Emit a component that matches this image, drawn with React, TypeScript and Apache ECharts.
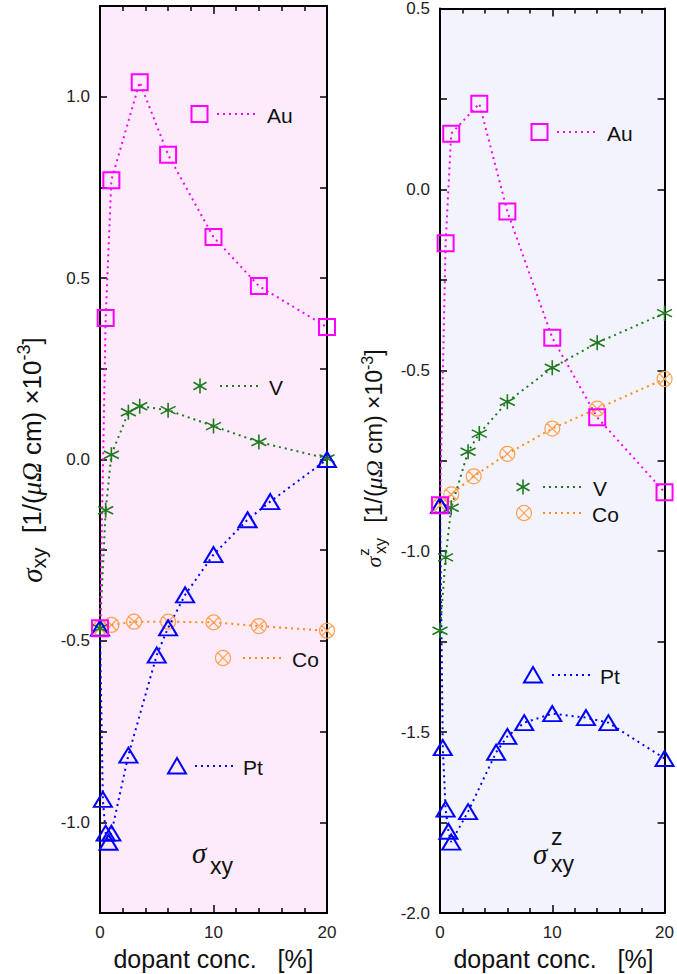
import React, { useEffect, useRef } from 'react';
import * as echarts from 'echarts';

// ---------- data (dopant conc. [%] vs conductivity) ----------
const L_AU_X = [0, 0.5, 1, 3.5, 6, 10, 14, 20];
const L_AU_Y = [-0.465, 0.39, 0.77, 1.04, 0.84, 0.613, 0.478, 0.365];
const L_V_X = [0, 0.5, 1, 2.5, 3.5, 6, 10, 14, 20];
const L_V_Y = [-0.465, -0.14, 0.013, 0.13, 0.147, 0.136, 0.092, 0.048, 0.003];
const L_CO_X = [0, 1, 3, 6, 10, 14, 20];
const L_CO_Y = [-0.465, -0.456, -0.447, -0.447, -0.449, -0.459, -0.472];
const L_PT_X = [0, 0.25, 0.5, 0.75, 1, 2.5, 5, 6, 7.5, 10, 13, 15, 20];
const L_PT_Y = [-0.465, -0.937, -1.03, -1.055, -1.03, -0.815, -0.539, -0.464, -0.373, -0.262, -0.166, -0.116, 0.0];

const R_AU_X = [0, 0.5, 1, 3.5, 6, 10, 14, 20];
const R_AU_Y = [-0.873, -0.149, 0.154, 0.237, -0.061, -0.41, -0.63, -0.837];
const R_V_X = [0, 0.5, 1, 2.5, 3.5, 6, 10, 14, 20];
const R_V_Y = [-1.22, -1.017, -0.88, -0.725, -0.675, -0.587, -0.493, -0.424, -0.342];
const R_CO_X = [0, 1, 3, 6, 10, 14, 20];
const R_CO_Y = [-0.873, -0.843, -0.793, -0.731, -0.661, -0.606, -0.524];
const R_PT_X = [0, 0.25, 0.5, 0.75, 1, 2.5, 5, 6, 7.5, 10, 13, 15, 20];
const R_PT_Y = [-0.873, -1.543, -1.713, -1.774, -1.804, -1.72, -1.556, -1.512, -1.474, -1.449, -1.46, -1.474, -1.573];

const X_MIN = 0;
const X_MAX = 20;
const L_Y_MIN = -1.25;
const L_Y_MAX = 1.25;
const R_Y_MIN = -2.0;
const R_Y_MAX = 0.5;

// ---------- styles ----------
const SANS = 'Liberation Sans, Arial, sans-serif';
const SERIF = 'Liberation Serif, Times New Roman, serif';
const C_AU = '#ff00ff';
const C_V = '#1f7a1f';
const C_CO_LINE = '#ff8a1a';
const C_CO_SYM = '#ffa04d';
const C_PT = '#0000ff';
const BG_L = '#fdeafa';
const BG_R = '#f3f3fd';

const SYM_AST = 'path://M5,0L5,10M0.67,2.5L9.33,7.5M0.67,7.5L9.33,2.5';
const SYM_OX = 'path://M0,8A8,8,0,1,1,16,8A8,8,0,1,1,0,8ZM2.34,2.34L13.66,13.66M13.66,2.34L2.34,13.66';

const pairs = (xs: number[], ys: number[]) => xs.map((x, i) => [x, ys[i]]);

function mkSeries(name: string, xs: number[], ys: number[], g: number, kind: string) {
  const base: any = {
    type: 'line',
    name,
    data: pairs(xs, ys),
    xAxisIndex: g * 2,
    yAxisIndex: g * 2,
    showAllSymbol: true,
    silent: true,
  };
  if (kind === 'au') {
    base.symbol = 'rect';
    base.symbolSize = 16;
    base.lineStyle = { color: C_AU, width: 2, type: [2, 4] };
    base.itemStyle = { color: 'rgba(0,0,0,0)', borderColor: C_AU, borderWidth: 2 };
  } else if (kind === 'v') {
    base.symbol = SYM_AST;
    base.symbolSize = 15;
    base.lineStyle = { color: C_V, width: 2, type: [2, 4] };
    base.itemStyle = { color: 'rgba(0,0,0,0)', borderColor: C_V, borderWidth: 1.6 };
  } else if (kind === 'co') {
    base.symbol = SYM_OX;
    base.symbolSize = 15;
    base.lineStyle = { color: C_CO_LINE, width: 2, type: [2, 4] };
    base.itemStyle = { color: 'rgba(0,0,0,0)', borderColor: C_CO_SYM, borderWidth: 1.2 };
  } else {
    base.symbol = 'triangle';
    base.symbolSize = [18, 15];
    base.lineStyle = { color: C_PT, width: 2, type: [2, 4] };
    base.itemStyle = { color: 'rgba(0,0,0,0)', borderColor: C_PT, borderWidth: 2 };
  }
  return base;
}

function legendItem(kind: string, cx: number, cy: number, x1: number, x2: number, tx: number, label: string) {
  const els: any[] = [];
  let lineColor = C_AU;
  if (kind === 'au') {
    els.push({ type: 'rect', shape: { x: cx - 8, y: cy - 8, width: 16, height: 16 }, style: { fill: 'none', stroke: C_AU, lineWidth: 2 } });
    lineColor = C_AU;
  } else if (kind === 'v') {
    const r = 7.5;
    const s = [[0, -r, 0, r], [-r * 0.866, -r * 0.5, r * 0.866, r * 0.5], [-r * 0.866, r * 0.5, r * 0.866, -r * 0.5]];
    s.forEach((l) => els.push({ type: 'line', shape: { x1: cx + l[0], y1: cy + l[1], x2: cx + l[2], y2: cy + l[3] }, style: { stroke: C_V, lineWidth: 1.6 } }));
    lineColor = C_V;
  } else if (kind === 'co') {
    const r = 7.5;
    els.push({ type: 'circle', shape: { cx, cy, r }, style: { fill: 'none', stroke: C_CO_SYM, lineWidth: 1.2 } });
    const d = r * 0.707;
    els.push({ type: 'line', shape: { x1: cx - d, y1: cy - d, x2: cx + d, y2: cy + d }, style: { stroke: C_CO_SYM, lineWidth: 1.2 } });
    els.push({ type: 'line', shape: { x1: cx + d, y1: cy - d, x2: cx - d, y2: cy + d }, style: { stroke: C_CO_SYM, lineWidth: 1.2 } });
    lineColor = C_CO_LINE;
  } else {
    els.push({ type: 'polygon', shape: { points: [[cx, cy - 8], [cx + 9, cy + 7.5], [cx - 9, cy + 7.5]] }, style: { fill: 'none', stroke: C_PT, lineWidth: 2 } });
    lineColor = C_PT;
  }
  els.push({ type: 'line', shape: { x1, y1: cy, x2, y2: cy }, style: { stroke: lineColor, lineWidth: 2, lineDash: [2, 4] } });
  els.push({ type: 'text', x: tx, y: cy + 1, style: { text: label, font: `21px ${SANS}`, fill: '#111', align: 'left', verticalAlign: 'middle' } });
  return els;
}

function xAxes(g: number) {
  const common: any = {
    type: 'value',
    gridIndex: g,
    min: X_MIN,
    max: X_MAX,
    interval: 10,
    splitLine: { show: false },
    minorSplitLine: { show: false },
    axisLine: { onZero: false, lineStyle: { color: '#000', width: 2 } },
    axisTick: { inside: true, length: 8, lineStyle: { color: '#000', width: 1.5 } },
    minorTick: { show: true, splitNumber: 5, length: 5, lineStyle: { color: '#000', width: 1.5 } },
  };
  return [
    { ...common, position: 'bottom', axisLabel: { fontSize: 17, fontFamily: SANS, color: '#222', margin: 11 } },
    { ...common, position: 'top', axisLabel: { show: false } },
  ];
}

function yAxes(g: number, min: number, max: number) {
  const common: any = {
    type: 'value',
    gridIndex: g,
    min,
    max,
    interval: 0.25,
    splitLine: { show: false },
    axisLine: { onZero: false, lineStyle: { color: '#000', width: 2 } },
    axisTick: { inside: true, length: 7, lineStyle: { color: '#000', width: 1.5 } },
  };
  return [
    {
      ...common,
      position: 'left',
      axisLabel: {
        fontSize: 17,
        fontFamily: SANS,
        color: '#222',
        margin: 10,
        showMinLabel: true,
        showMaxLabel: true,
        formatter: (v: number) => (Math.abs(v * 2 - Math.round(v * 2)) < 1e-6 ? v.toFixed(1) : ''),
      },
    },
    { ...common, position: 'right', axisLabel: { show: false } },
  ];
}

export default function App() {
  const ref = useRef<HTMLDivElement>(null);
  useEffect(() => {
    document.body.style.margin = '0';
    if (!ref.current) return;
    const chart = echarts.init(ref.current, null, { renderer: 'svg' });
    const xa = [...xAxes(0), ...xAxes(1)];
    const ya = [...yAxes(0, L_Y_MIN, L_Y_MAX), ...yAxes(1, R_Y_MIN, R_Y_MAX)];

    const graphic: any[] = [
      ...legendItem('au', 199.5, 114, 217, 258, 267, 'Au'),
      ...legendItem('v', 200, 386, 220, 261, 269, 'V'),
      ...legendItem('co', 223, 658, 243, 283, 292, 'Co'),
      ...legendItem('pt', 177, 766, 195, 236, 243, 'Pt'),
      ...legendItem('au', 539.5, 132, 557, 598, 607, 'Au'),
      ...legendItem('v', 523, 487, 543, 584, 593, 'V'),
      ...legendItem('co', 524, 513, 543, 584, 592, 'Co'),
      ...legendItem('pt', 533, 675, 552, 593, 600, 'Pt'),
      // axis titles (x)
      { type: 'text', x: 213.5, y: 959, style: { text: 'dopant conc.   [%]', font: `25px ${SANS}`, fill: '#111', align: 'center', verticalAlign: 'middle' } },
      { type: 'text', x: 553.5, y: 959, style: { text: 'dopant conc.   [%]', font: `25px ${SANS}`, fill: '#111', align: 'center', verticalAlign: 'middle' } },
      // left y title (rotated)
      {
        type: 'text',
        x: 32,
        y: 460,
        rotation: Math.PI / 2,
        style: {
          text: '{s|σ}{sub|xy}{t|  [1/(}{it|μΩ}{t| cm) ×10}{sup|-3}{t|]}',
          align: 'center',
          verticalAlign: 'middle',
          fill: '#111',
          rich: {
            s: { fontFamily: SERIF, fontStyle: 'italic', fontSize: 29, lineHeight: 34, fill: '#111' },
            sub: { fontFamily: SANS, fontSize: 21, verticalAlign: 'bottom', fill: '#111' },
            t: { fontFamily: SANS, fontSize: 26, lineHeight: 34, fill: '#111' },
            it: { fontFamily: SERIF, fontStyle: 'italic', fontSize: 27, lineHeight: 34, fill: '#111' },
            sup: { fontFamily: SANS, fontSize: 18, verticalAlign: 'top', fill: '#111' },
          },
        },
      },
      // right y title (rotated group)
      {
        type: 'group',
        x: 374,
        y: 459,
        rotation: Math.PI / 2,
        children: [
          {
            type: 'text',
            x: 23,
            y: 0,
            style: {
              text: '{t|[1/(}{it|μΩ}{t| cm) ×10}{sup|-3}{t|]}',
              align: 'center',
              verticalAlign: 'middle',
              fill: '#111',
              rich: {
                t: { fontFamily: SANS, fontSize: 23, lineHeight: 30, fill: '#111' },
                it: { fontFamily: SERIF, fontStyle: 'italic', fontSize: 24, lineHeight: 30, fill: '#111' },
                sup: { fontFamily: SANS, fontSize: 16, verticalAlign: 'top', fill: '#111' },
              },
            },
          },
          { type: 'text', x: -103, y: -1, style: { text: 'σ', font: `italic 22px ${SERIF}`, fill: '#111', align: 'center', verticalAlign: 'middle' } },
          { type: 'text', x: -87, y: 6, style: { text: 'xy', font: `16px ${SANS}`, fill: '#111', align: 'center', verticalAlign: 'middle' } },
          { type: 'text', x: -93, y: -11, style: { text: 'z', font: `15px ${SANS}`, fill: '#111', align: 'center', verticalAlign: 'middle' } },
        ],
      },
      // in-panel annotations
      { type: 'text', x: 192, y: 853, style: { text: 'σ', font: `italic 29px ${SERIF}`, fill: '#111', align: 'left', verticalAlign: 'middle' } },
      { type: 'text', x: 210, y: 866, style: { text: 'xy', font: `23px ${SANS}`, fill: '#111', align: 'left', verticalAlign: 'middle' } },
      { type: 'text', x: 533, y: 854, style: { text: 'σ', font: `italic 29px ${SERIF}`, fill: '#111', align: 'left', verticalAlign: 'middle' } },
      { type: 'text', x: 551, y: 864, style: { text: 'xy', font: `23px ${SANS}`, fill: '#111', align: 'left', verticalAlign: 'middle' } },
      { type: 'text', x: 551, y: 837, style: { text: 'z', font: `23px ${SANS}`, fill: '#111', align: 'left', verticalAlign: 'middle' } },
    ];

    chart.setOption({
      animation: false,
      backgroundColor: '#fff',
      grid: [
        { left: 100, top: 6, width: 227, height: 907, show: true, backgroundColor: BG_L, borderWidth: 0 },
        { left: 440, top: 6, width: 227, height: 907, show: true, backgroundColor: BG_R, borderWidth: 0 },
      ],
      xAxis: xa,
      yAxis: ya,
      series: [
        mkSeries('Co', L_CO_X, L_CO_Y, 0, 'co'),
        mkSeries('V', L_V_X, L_V_Y, 0, 'v'),
        mkSeries('Pt', L_PT_X, L_PT_Y, 0, 'pt'),
        mkSeries('Au', L_AU_X, L_AU_Y, 0, 'au'),
        mkSeries('Co', R_CO_X, R_CO_Y, 1, 'co'),
        mkSeries('V', R_V_X, R_V_Y, 1, 'v'),
        mkSeries('Pt', R_PT_X, R_PT_Y, 1, 'pt'),
        mkSeries('Au', R_AU_X, R_AU_Y, 1, 'au'),
      ],
      graphic,
    });
    return () => chart.dispose();
  }, []);
  return <div ref={ref} style={{ width: 677, height: 974 }} />;
}
